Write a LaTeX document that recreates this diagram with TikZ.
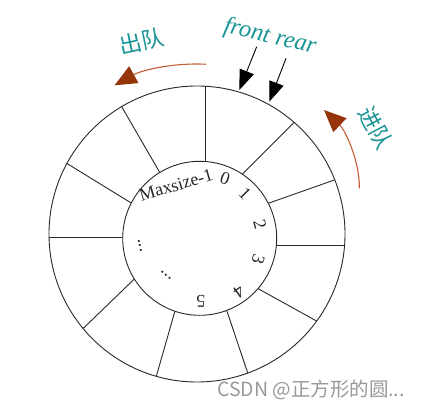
\documentclass[tikz,border=0pt]{standalone}
\usepackage{fontspec}
\setmainfont{Liberation Serif}
\setsansfont{Liberation Sans}
\newfontfamily\cjk{Noto Sans CJK SC}
\usetikzlibrary{arrows.meta,calc}
\definecolor{tealtxt}{RGB}{26,148,148}
\definecolor{arcline}{RGB}{196,92,52}
\definecolor{arrowhd}{RGB}{150,52,10}
\definecolor{ringline}{RGB}{40,40,40}
\begin{document}
\begin{tikzpicture}[x=1pt,y=-1pt,
  ring/.style={draw=ringline,line width=0.9pt},
  lbl/.style={font=\fontsize{18}{18}\selectfont,inner sep=0pt,text=black!85},
  ptr/.style={draw=black,line width=0.9pt,-{Triangle[length=20pt,width=15pt]}},
  turn/.style={draw=arcline,line width=1.1pt,-{Triangle[length=22pt,width=19pt,fill=arrowhd,color=arrowhd]}},
  tealcjk/.style={font=\cjk\fontsize{22.5}{22.5}\selectfont,text=tealtxt,inner sep=0pt}]
\useasboundingbox (0,0) rectangle (425,409);
\coordinate (C) at (197,234);
\coordinate (c) at (199.7,238.3);
% spokes
\begin{scope}
  \clip (C) circle[radius=148];
  \foreach \ix/\iy/\ox/\oy in {
    205/161.7/205/86.7,
    159.3/171.7/121.7/106.7,
    131.7/203.3/66.7/163.3,
    122.7/237.7/48.3/237.7,
    133.3/280/83.3/328.3,
    174.3/313.3/156.7/375,
    227.7/313.3/247.3/371.7,
    259.3/289.3/316/320.7,
    276.7/245/345/245,
    268.3/203.3/334.3/180,
    243.3/173.3/293.3/123.3}
    \draw[ring] ($(\ix,\iy)!-0.3!(\ox,\oy)$) -- ($(\ix,\iy)!1.3!(\ox,\oy)$);
\end{scope}
\fill[white] (c) circle[radius=77];
\draw[ring] (c) circle[radius=77];
\draw[ring] (C) circle[radius=148];
% inner labels
\node[lbl,rotate=16.6] (maxs) at (176,185) {Maxsize-1};
\node[lbl,rotate=-20] (n0) at (225,178) {0};
\node[lbl,rotate=-46] (n1) at (245,194) {1};
\node[lbl,rotate=-76] (n2) at (260,224) {2};
\node[lbl,rotate=-106] (n3) at (258.3,259) {3};
\node[lbl,rotate=-144] (n4) at (239,291.7) {4};
\node[lbl,rotate=180] (n5) at (200.8,301.7) {5};
\node[lbl,rotate=-77] (d1) at (140,246) {...};
\node[lbl,rotate=-38] (d2) at (166,275) {...};
% front / rear
\node[font=\itshape\fontsize{24.5}{24.5}\selectfont,text=tealtxt,inner sep=0pt,rotate=-13] (fr) at (270,37) {front rear};
\coordinate (fs) at (256.7,46.7);
\coordinate (ft) at (239.3,90);
\coordinate (rs) at (286,58.3);
\coordinate (rt) at (269.3,101.7);
\draw[ptr] (fs) -- (ft);
\draw[ptr] (rs) -- (rt);
% dequeue / enqueue arrows
\coordinate (outs) at ($(C)+(-87:170)$);
\draw[turn] (outs) arc[start angle=-87,end angle=-119,radius=170];
\node[tealcjk,rotate=12] (outq) at (142,41) {出队};
\coordinate (ins) at (359.3,188.3);
\coordinate (inend) at (324,110);
\draw[turn] (ins) .. controls (360,163) and (346,131) .. (inend);
\node[tealcjk,rotate=-62] (inq) at (376,128) {进队};
% watermark
\node[font=\cjk\fontsize{19.5}{19.5}\selectfont,text=black!40,anchor=west,inner sep=0pt] (wm) at (217,390) {CSDN @正方形的圆...};
\end{tikzpicture}
\end{document}
